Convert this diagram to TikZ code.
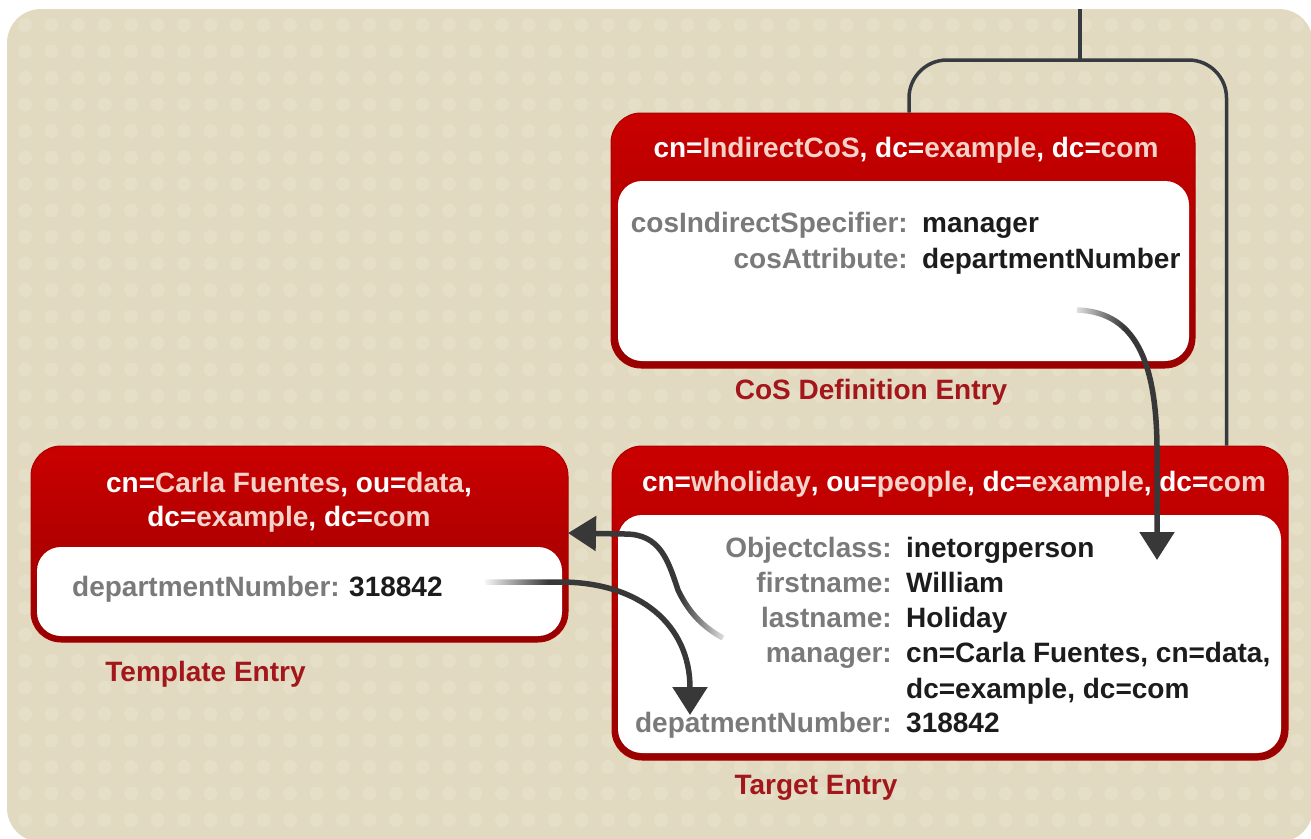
\documentclass[tikz,border=0pt]{standalone}
\usepackage{fontspec}
\setmainfont{Liberation Sans}
\usetikzlibrary{arrows.meta,fadings}
\usepackage{xcolor}
\definecolor{bgbeige}{HTML}{E1DAC0}
\definecolor{dotbeige}{HTML}{E5DFC8}
\definecolor{hdrtop}{HTML}{CA0000}
\definecolor{hdrbot}{HTML}{980000}
\definecolor{boxred}{HTML}{A80000}
\definecolor{hdrval}{HTML}{F4D4CA}
\definecolor{keygray}{HTML}{7A7A7A}
\definecolor{valblack}{HTML}{1C1C1C}
\definecolor{labelred}{HTML}{A3161B}
\definecolor{linegray}{HTML}{363B41}
\definecolor{arrowgray}{HTML}{383838}

\newcommand{\entryfont}{\bfseries\fontsize{28}{35}\selectfont}
\newcommand{\dnkey}[1]{\textcolor{white}{#1}}
\newcommand{\dnval}[1]{\textcolor{hdrval}{#1}}

\begin{document}
\begin{tikzpicture}[x=1pt, y=-1pt,
  entrybox/.style={rectangle, rounded corners=30pt, draw=boxred, line width=1pt, top color=hdrtop, bottom color=hdrbot},
  bodybox/.style={rectangle, rounded corners=24pt, fill=white},
  hdrtext/.style={anchor=base, inner sep=0pt, font=\entryfont},
  keytext/.style={anchor=base east, inner sep=0pt, text=keygray, font=\entryfont},
  valtext/.style={anchor=base west, inner sep=0pt, text=valblack, font=\entryfont},
  caption/.style={anchor=base, inner sep=0pt, text=labelred, font=\entryfont},
  treeline/.style={line width=3.5pt, linegray, rounded corners=38pt},
  flow/.style={line width=5.5pt, arrowgray, -{Triangle[length=28pt,width=34pt]}}
]
  \useasboundingbox (0,0) rectangle (1311,838);
  % backdrop with dots
  \fill[bgbeige, rounded corners=34pt] (7,9) rectangle (1313,842);
  \begin{scope}
    \clip[rounded corners=34pt] (7,9) rectangle (1313,842);
    \foreach \i in {0,...,48}
      \foreach \j in {0,...,31}
        \fill[dotbeige] (25+26.5*\i, 25+26.5*\j) circle (7pt);
  \end{scope}

  % tree lines
  \coordinate (treetop) at (1080,9);
  \coordinate (fork) at (1080,60);
  \draw[treeline] (treetop) -- (fork);

  % entries
  \node[entrybox, minimum width=584pt, minimum height=255pt] (cosdef) at (903,240.5) {};
  \node[bodybox, minimum width=571pt, minimum height=180pt] (cosbody) at (903.5,271) {};
  \node[entrybox, minimum width=537pt, minimum height=196pt] (tmpl) at (299.5,544) {};
  \node[bodybox, minimum width=525pt, minimum height=89pt] (tmplbody) at (299.5,591.5) {};
  \node[entrybox, minimum width=676pt, minimum height=314pt] (target) at (950,603) {};
  \node[bodybox, minimum width=663pt, minimum height=238pt] (targetbody) at (949.5,634) {};

  \draw[treeline] (fork) -| ([xshift=6pt]cosdef.north);
  \draw[treeline] (fork) -| ([xshift=-62pt]target.north east);

  % headers
  \node[hdrtext] (coshead) at (906,157) {\dnkey{cn=}\dnval{IndirectCoS}\dnkey{, dc=}\dnval{example}\dnkey{, dc=}\dnval{com}};
  \node[hdrtext] (tmplhead) at (289,492) {\dnkey{cn=}\dnval{Carla Fuentes}\dnkey{, ou=}\dnval{data}\dnkey{,}};
  \node[hdrtext] (tmplhead2) at (289,526) {\dnkey{dc=}\dnval{example}\dnkey{, dc=}\dnval{com}};
  \node[hdrtext] (targethead) at (954,491) {\dnkey{cn=}\dnval{wholiday}\dnkey{, ou=}\dnval{people}\dnkey{, dc=}\dnval{example}\dnkey{, dc=}\dnval{com}};

  % CoS definition attributes
  \node[keytext] (speckey) at (908,232) {cosIndirectSpecifier:};
  \node[valtext] (specval) at (922,232) {manager};
  \node[keytext] (attrkey) at (908,268) {cosAttribute:};
  \node[valtext] (attrval) at (922,268) {departmentNumber};

  % template attributes
  \node[keytext] (tmplkey) at (340,596) {departmentNumber:};
  \node[valtext] (tmplval) at (349,596) {318842};

  % target attributes
  \node[keytext] (objkey) at (892,557) {Objectclass:};
  \node[valtext] (objval) at (906,557) {inetorgperson};
  \node[keytext] (firstkey) at (892,592) {firstname:};
  \node[valtext] (firstval) at (906,592) {William};
  \node[keytext] (lastkey) at (892,627) {lastname:};
  \node[valtext] (lastval) at (906,627) {Holiday};
  \node[keytext] (mgrkey) at (892,662) {manager:};
  \node[valtext] (mgrval) at (906,662) {cn=Carla Fuentes, cn=data,};
  \node[valtext] (mgrval2) at (906,698) {dc=example, dc=com};
  \node[keytext] (numkey) at (892,732) {depatmentNumber:};
  \node[valtext] (numval) at (906,732) {318842};

  % captions
  \node[caption] (coslabel) at (871,399) {CoS Definition Entry};
  \node[caption] (tmpllabel) at (205.5,681) {Template Entry};
  \node[caption] (targetlabel) at (816,794) {Target Entry};

  % arrows, each fading in at its start
  \coordinate (mgrsrc) at (723,638);
  \coordinate (mgrbend) at (678,590);
  \coordinate (tmpltip) at (568,533);
  \draw[flow] (mgrsrc) .. controls (705,628) and (690,615) .. (mgrbend)
    .. controls (668,560) and (660,534) .. (625,534) -- (tmpltip);
  \fill[white, path fading=west] (680,588) rectangle (732,646);

  \coordinate (numsrc) at (485,582);
  \coordinate (numtip) at (690,715);
  \draw[flow] (numsrc) -- (560,582) .. controls (640,582) and (690,625) .. (690,688) -- (numtip);
  \fill[white, path fading=east] (482,568) rectangle (548,596);

  \coordinate (specsrc) at (1077,310);
  \coordinate (objtip) at (1157,560);
  \draw[flow] (specsrc) .. controls (1140,312) and (1158,370) .. (1157,460) -- (objtip);
  \fill[white, path fading=east] (1068,298) rectangle (1124,342);
\end{tikzpicture}
\end{document}
